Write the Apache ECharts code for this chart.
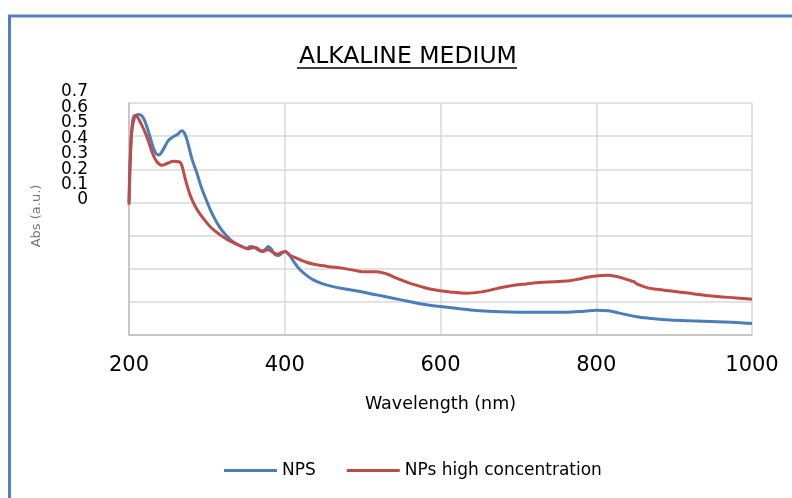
<!DOCTYPE html>
<html>
<head>
<meta charset="utf-8">
<script src="https://cdn.jsdelivr.net/npm/echarts@6/dist/echarts.min.js"></script>
<style>
  html, body { margin: 0; padding: 0; background: #fff; }
  #chart { width: 792px; height: 498px; }
</style>
</head>
<body>
<div id="chart"></div>
<script>
  // wavelength (nm) and absorbance
  var nmNps = [200, 203, 207, 212, 217, 222, 228, 233, 238, 244, 250, 256, 262, 268, 272, 276, 281, 287, 293, 300,
    308, 317, 325, 333, 342, 351, 356, 360, 365, 370, 375, 379, 383, 388, 392, 397, 401, 405, 412, 420,
    428, 436, 448, 462, 480, 497, 518, 539, 560, 582, 603, 625, 646, 670, 698, 730, 762, 785, 800, 815,
    830, 852, 870, 890, 920, 955, 980, 1000];
  var absNps = [0.40, 0.60, 0.655, 0.665, 0.66, 0.635, 0.59, 0.555, 0.543, 0.56, 0.585, 0.597, 0.605, 0.616, 0.605, 0.575, 0.53, 0.49, 0.445, 0.403,
    0.36, 0.323, 0.30, 0.282, 0.27, 0.262, 0.267, 0.266, 0.258, 0.252, 0.258, 0.267, 0.258, 0.242, 0.24, 0.248, 0.252, 0.244, 0.22, 0.196,
    0.18, 0.167, 0.155, 0.146, 0.138, 0.131, 0.121, 0.111, 0.101, 0.091, 0.085, 0.079, 0.074, 0.071, 0.069, 0.069, 0.069, 0.072, 0.075, 0.073,
    0.066, 0.055, 0.050, 0.046, 0.043, 0.040, 0.038, 0.035];

  var nmHigh = [200, 202, 204, 207, 210, 215, 222, 227, 231, 236, 242, 250, 257, 265, 268, 272, 276, 280, 287, 295,
    305, 317, 327, 338, 346, 353, 358, 362, 367, 372, 376, 379, 384, 391, 396, 400, 407, 415, 425, 436,
    455, 475, 490, 500, 518, 531, 545, 561, 575, 590, 612, 634, 655, 672, 689, 710, 732, 766, 780, 792,
    803, 814, 825, 835, 845, 849, 852, 865, 878, 912, 955, 980, 1000];
  var absHigh = [0.393, 0.55, 0.63, 0.662, 0.66, 0.64, 0.604, 0.57, 0.544, 0.522, 0.512, 0.519, 0.524, 0.522, 0.51, 0.473, 0.44, 0.413, 0.38, 0.353,
    0.325, 0.302, 0.287, 0.274, 0.266, 0.26, 0.263, 0.264, 0.258, 0.252, 0.256, 0.257, 0.25, 0.244, 0.249, 0.252, 0.24, 0.232, 0.222, 0.214,
    0.207, 0.201, 0.195, 0.191, 0.191, 0.184, 0.17, 0.156, 0.146, 0.137, 0.13, 0.126, 0.131, 0.14, 0.148, 0.154, 0.159, 0.164, 0.17, 0.176,
    0.179, 0.18, 0.177, 0.171, 0.163, 0.16, 0.154, 0.143, 0.138, 0.128, 0.116, 0.112, 0.108];

  var seriesNames = ['NPS', 'NPs high concentration'];
  var xTicks = [200, 400, 600, 800, 1000];
  // y tick labels sit squeezed together left of the plot in the original
  var yTicks = ['0', '0.1', '0.2', '0.3', '0.4', '0.5', '0.6', '0.7'];

  function pairs(xs, ys) {
    var out = [];
    for (var i = 0; i < xs.length; i++) out.push([xs[i], ys[i]]);
    return out;
  }

  var font = '"DejaVu Sans", sans-serif';
  var chart = echarts.init(document.getElementById('chart'));
  var option = {
    backgroundColor: '#fff',
    animation: false,
    textStyle: { fontFamily: font },
    title: {
      text: 'ALKALINE MEDIUM',
      left: 403,
      textAlign: 'center',
      top: 40,
      textStyle: { fontFamily: font, fontSize: 23.5, fontWeight: 'normal', color: '#000' }
    },
    legend: {
      data: seriesNames,
      left: 219,
      top: 457,
      icon: 'rect',
      itemWidth: 53,
      itemHeight: 3,
      itemGap: 31,
      textStyle: { fontFamily: font, fontSize: 17, color: '#000' }
    },
    grid: [
      { left: 129, right: 40, top: 103, bottom: 163 },
      { left: 90, width: 1, top: 92, height: 108 }
    ],
    xAxis: [{
      type: 'value',
      min: 200, max: 1000, interval: 200,
      name: 'Wavelength (nm)',
      nameLocation: 'middle',
      nameGap: 60,
      nameTextStyle: { fontFamily: font, fontSize: 17.5, color: '#000' },
      axisLine: { show: true, lineStyle: { color: '#bfbfbf', width: 1.5 } },
      axisTick: { show: false },
      splitLine: { show: true, lineStyle: { color: '#d9d9d9', width: 1.5 } },
      axisLabel: {
        margin: 20, fontSize: 21, color: '#000',
        formatter: function (v) { return xTicks.indexOf(v) >= 0 ? v : ''; }
      }
    }, {
      gridIndex: 1, type: 'value', show: false
    }],
    yAxis: [{
      type: 'value',
      min: 0, max: 0.7, interval: 0.1,
      axisLine: { show: true, lineStyle: { color: '#bfbfbf', width: 1.5 } },
      axisTick: { show: false },
      axisLabel: { show: false },
      splitLine: { show: true, lineStyle: { color: '#d9d9d9', width: 1.5 } }
    }, {
      gridIndex: 1,
      type: 'category',
      data: yTicks,
      boundaryGap: false,
      axisLine: { show: false },
      axisTick: { show: false },
      splitLine: { show: false },
      axisLabel: {
        interval: 0, margin: 2, fontSize: 17, color: '#000'
      }
    }],
    graphic: [
      // y axis title, partly cut off in the original
      {
        type: 'text', x: 37, y: 216, rotation: Math.PI / 2,
        style: { text: 'Abs (a.u.)', fontFamily: font, fontSize: 13, fill: '#777', align: 'center', verticalAlign: 'middle' }
      },
      // title underline
      { type: 'line', shape: { x1: 297, y1: 68, x2: 517, y2: 68 }, style: { stroke: '#000', lineWidth: 1.5 } },
      // blue frame (top and left edge)
      { type: 'line', shape: { x1: 8, y1: 16, x2: 792, y2: 16 }, style: { stroke: '#4F81BD', lineWidth: 3 } },
      { type: 'line', shape: { x1: 9.5, y1: 15, x2: 9.5, y2: 498 }, style: { stroke: '#4F81BD', lineWidth: 3 } }
    ],
    series: [{
      name: seriesNames[0],
      type: 'line',
      data: pairs(nmNps, absNps),
      smooth: 0.4,
      showSymbol: false,
      lineStyle: { width: 3, color: '#4A7EBB' },
      itemStyle: { color: '#4A7EBB' }
    }, {
      name: seriesNames[1],
      type: 'line',
      data: pairs(nmHigh, absHigh),
      smooth: 0.4,
      showSymbol: false,
      lineStyle: { width: 3, color: '#BE4B48' },
      itemStyle: { color: '#BE4B48' }
    }]
  };
  chart.setOption(option);
</script>
</body>
</html>
